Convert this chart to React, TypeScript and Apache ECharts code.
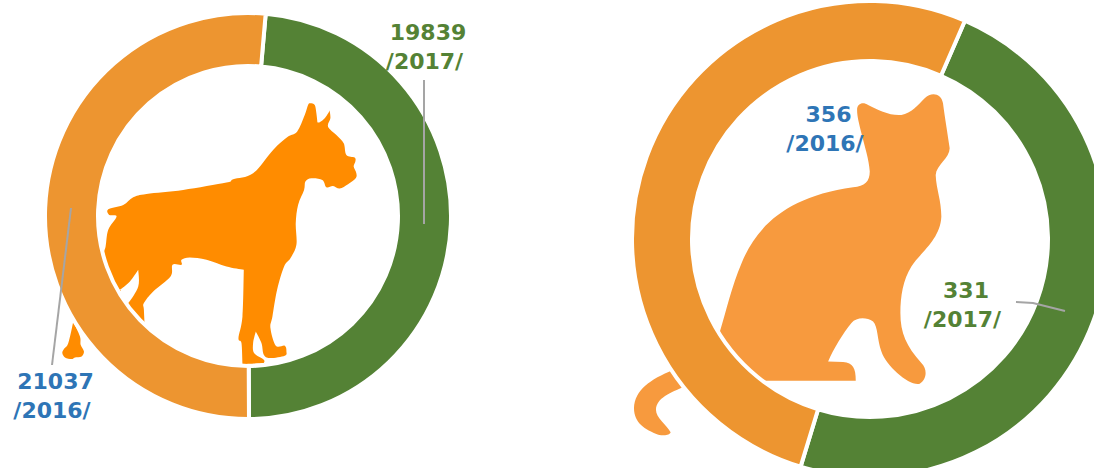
import React, { useEffect, useRef } from "react";
import * as echarts from "echarts";

const years = ["2017", "2016"];
const dogValues = [19839, 21037];
const catValues = [331, 356];

const sliceColors = ["#548235", "#ED9530"];
const labelColors = ["#548235", "#2E75B6"];

// Curve through a traced outline: a repeated point makes a sharp corner.
const smooth = (outline: string) => {
  const p = outline.trim().split(",").map((s) => s.trim().split(/\s+/).map(Number));
  const n = p.length;
  const at = (i: number) => p[(i + n) % n];
  const f = (v: number) => v.toFixed(1);
  let d = `M${p[0][0]} ${p[0][1]}`;
  for (let i = 0; i < n; i++) {
    const [p0, p1, p2, p3] = [at(i - 1), at(i), at(i + 1), at(i + 2)];
    d += ` C${f(p1[0] + (p2[0] - p0[0]) / 6)} ${f(p1[1] + (p2[1] - p0[1]) / 6)} ${f(p2[0] - (p3[0] - p1[0]) / 6)} ${f(p2[1] - (p3[1] - p1[1]) / 6)} ${p2[0]} ${p2[1]}`;
  }
  return d + " Z";
};

const dogBody = `812 40, 825 45, 830 70, 833 97, 833 97, 840 97, 855 85, 870 62, 870 62, 872 85, 865 110, 890 135, 912 160, 920 195,
 945 203, 947 215, 942 230, 950 250, 948 265, 925 283, 900 296, 880 288, 860 292, 848 270, 815 265, 797 275, 793 300, 775 345, 768 400, 770 465, 752 505, 733 530,
 712 600, 698 680, 692 715, 708 768, 735 768, 740 785, 735 798, 690 805, 672 795, 665 760, 648 725, 648 725, 640 760, 643 790, 672 810, 672 820, 672 820, 608 823, 608 823,
 605 760, 596 745, 608 680, 612 540, 612 540, 560 530, 500 510, 450 503, 425 510, 425 525, 398 525, 392 560, 340 605, 312 640, 312 660, 315 720, 315 720, 280 685, 250 650, 250 650,
 265 640, 295 590, 295 540, 295 540, 270 575, 240 600, 240 600, 195 570, 195 570, 190 500, 197 470, 205 420, 230 380, 208 375, 205 358, 250 345, 280 322, 320 312, 430 300, 560 278, 580 268, 640 250, 700 180, 745 140, 772 125, 795 75, 805 45`;
const dogFoot = `100 695, 100 695, 120 740, 122 765, 132 785, 125 800, 105 803, 95 808, 75 803, 67 790, 72 778, 85 760`;
const dogPath = smooth(dogBody) + " " + smooth(dogFoot);

const catPath =
  "M712 90 C712 70 730 65 745 75 C775 90 810 108 845 105 C875 100 895 75 915 55 C935 35 965 40 970 70 C975 110 985 170 990 205 C990 235 950 255 948 285 C950 330 965 360 965 410 C962 480 900 520 875 560 C850 600 842 650 842 700 C842 760 860 800 905 850 C925 870 920 900 900 912 C870 920 800 860 785 815 C772 780 775 740 760 725 C740 712 710 712 695 730 C670 760 640 810 625 845 L670 847 C700 850 708 865 708 903 L420 903 L340 860 L290 770 L300 755 C320 690 335 620 365 550 C410 440 500 350 700 322 C735 320 750 305 750 275 C748 240 735 200 725 160 C718 130 712 110 712 90 Z " +
  "M160 870 L195 920 C150 940 110 955 108 990 C108 1015 140 1035 152 1058 C150 1068 130 1068 115 1065 C75 1050 42 1030 42 985 C45 930 90 900 160 870 Z";

echarts.graphic.registerShape("dogShape", echarts.graphic.extendPath(dogPath, {}));
echarts.graphic.registerShape("catShape", echarts.graphic.extendPath(catPath, {}));

const font = { fontFamily: "DejaVu Sans", fontWeight: "bold", fontSize: 22, lineHeight: 29 };

const makePie = (
  values: number[],
  center: [number, number],
  radius: [number, number],
  startAngle: number,
  labelPos: [number, number][]
) => ({
  type: "pie",
  center,
  radius,
  startAngle,
  clockwise: true,
  avoidLabelOverlap: false,
  itemStyle: { borderColor: "#fff", borderWidth: 4 },
  data: values.map((v, i) => ({
    value: v,
    name: years[i],
    itemStyle: { color: sliceColors[i] },
    label: { color: labelColors[i] },
  })),
  label: {
    show: true,
    position: "outside",
    formatter: (p: any) => `{a|${p.value}}\n{b|/${p.name}/}`,
    ...font,
    align: "center",
    verticalAlign: "middle",
    rich: { a: { ...font, padding: [0, 0, 0, 7] }, b: { ...font } },
  },
  labelLine: { show: false },
  labelLayout: (p: any) => ({
    x: labelPos[p.dataIndex][0],
    y: labelPos[p.dataIndex][1],
    align: "center",
    verticalAlign: "middle",
  }),
  emphasis: { disabled: true },
});

const leader = (points: number[][]) => ({
  type: "polyline",
  z: 5,
  shape: { points },
  style: { fill: "none", stroke: "#A5A5A5", lineWidth: 2 },
});

export default function App() {
  const ref = useRef<HTMLDivElement>(null);
  useEffect(() => {
    document.body.style.margin = "0";
    const chart = echarts.init(ref.current!, null, { renderer: "svg" });
    chart.setOption({
      animation: false,
      backgroundColor: "#fff",
      graphic: [
        { type: "dogShape", x: 40, y: 90, scaleX: 1 / 3, scaleY: 1 / 3, z: 0, style: { fill: "#FF8C00" } },
        { type: "catShape", x: 620, y: 80, scaleX: 1 / 3, scaleY: 1 / 3, z: 0, style: { fill: "#F79A3E" } },
        leader([[424, 224], [424, 80]]),
        leader([[71, 208], [52, 365]]),
        leader([[1065, 311], [1033, 303], [1016, 302]]),
      ],
      series: [
        makePie(dogValues, [248, 216], [150, 203], 85, [[424.5, 47], [52, 396]]),
        makePie(catValues, [870, 239], [178, 238], 66.5, [[962.5, 305], [825, 129]]),
      ],
    });
    return () => chart.dispose();
  }, []);
  return <div ref={ref} style={{ position: "absolute", left: 0, top: 0, width: 1094, height: 468 }} />;
}
